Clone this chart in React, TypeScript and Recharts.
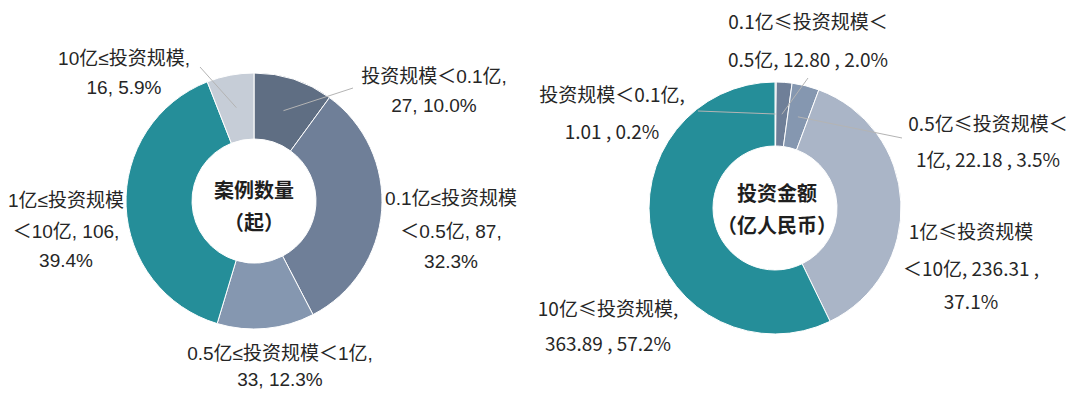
import { Cell, Pie, PieChart } from "recharts";

const scaleNames = ["投资规模＜0.1亿", "0.1亿≤投资规模＜0.5亿", "0.5亿≤投资规模＜1亿", "1亿≤投资规模＜10亿", "10亿≤投资规模"];
const dealCounts = [27, 87, 33, 106, 16];
const dealAmounts = [1.01, 12.8, 22.18, 236.31, 363.89];

const leftColors = ["#5f6e83", "#6f7f98", "#8597b0", "#258e99", "#c6cdd7"];
const rightColors = ["#5f6e83", "#6f7f98", "#8597b0", "#aab5c7", "#258e99"];

type Spot = { x: number; y: number[]; breaks: number[]; line?: [number, number] };

// where each label sits, and where its leader line ends
const leftSpots: Spot[] = [
  { x: 434, y: [76, 105], breaks: [10], line: [353, 88] },
  { x: 451, y: [198, 231, 261], breaks: [9, 19] },
  { x: 280, y: [353, 379], breaks: [13] },
  { x: 66, y: [200, 231, 260], breaks: [7, 17] },
  { x: 124, y: [58, 87], breaks: [9], line: [200, 67] },
];

const rightSpots: Spot[] = [
  { x: 612, y: [93, 130], breaks: [10], line: [698, 111] },
  { x: 808, y: [20, 58], breaks: [10], line: [808, 78] },
  { x: 988, y: [122, 158], breaks: [10], line: [902, 138] },
  { x: 971, y: [230, 267, 300], breaks: [7, 21] },
  { x: 608, y: [307, 342], breaks: [9] },
];

function buildRows(values: number[], digits: number) {
  const total = values.reduce((a, b) => a + b, 0);
  return scaleNames.map((name, i) => ({
    name,
    value: values[i],
    shown: digits ? values[i].toFixed(digits) : String(values[i]),
    pct: ((values[i] / total) * 100).toFixed(1) + "%",
  }));
}

const leftRows = buildRows(dealCounts, 0);
const rightRows = buildRows(dealAmounts, 2);

function splitAt(text: string, breaks: number[]) {
  const out: string[] = [];
  let from = 0;
  for (const b of breaks) {
    out.push(text.slice(from, b).trim());
    from = b;
  }
  out.push(text.slice(from).trim());
  return out;
}

const RAD = Math.PI / 180;

function makeLabel(spots: Spot[], sep: string, font: string) {
  return (props: any) => {
    const { cx, cy, midAngle, innerRadius, outerRadius, index, payload } = props;
    const spot = spots[index];
    const row = payload?.payload ?? payload;
    const full = `${row.name}, ${row.shown}${sep}${row.pct}`;
    const lines = splitAt(full, spot.breaks);
    const r = (innerRadius + outerRadius) / 2;
    const px = cx + Math.cos(-midAngle * RAD) * r;
    const py = cy + Math.sin(-midAngle * RAD) * r;
    return (
      <g>
        {spot.line && <line x1={spot.line[0]} y1={spot.line[1]} x2={px} y2={py} stroke="#b4b4b4" strokeWidth={1} />}
        {lines.map((t, k) => (
          <text
            key={k}
            x={spot.x}
            y={spot.y[k]}
            textAnchor="middle"
            dominantBaseline="central"
            fill="#262626"
            fontSize={19}
            fontFamily={font}
          >
            {t}
          </text>
        ))}
      </g>
    );
  };
}

const leftFont = "'Liberation Sans', Arial, 'Noto Sans CJK SC', sans-serif";
const rightFont = "'Noto Sans CJK SC', sans-serif";

const centerStyle = {
  position: "absolute" as const,
  width: 140,
  textAlign: "center" as const,
  fontFamily: "'Noto Sans CJK SC', sans-serif",
  fontSize: 20,
  fontWeight: 700,
  color: "#1f1f1f",
  lineHeight: "32px",
};

export default function App() {
  return (
    <div style={{ position: "absolute", left: 0, top: 0, width: 1080, height: 396, background: "#fff" }}>
      <PieChart width={1080} height={396} margin={{ top: 0, right: 0, bottom: 0, left: 0 }}>
        <Pie
          data={leftRows}
          dataKey="value"
          nameKey="name"
          cx={254}
          cy={201}
          innerRadius={62}
          outerRadius={128}
          startAngle={90}
          endAngle={-270}
          stroke="#fff"
          strokeWidth={1}
          label={makeLabel(leftSpots, ", ", leftFont)}
          labelLine={false}
          isAnimationActive={false}
        >
          {leftRows.map((r, i) => (
            <Cell key={r.name} fill={leftColors[i]} />
          ))}
        </Pie>
        <Pie
          data={rightRows}
          dataKey="value"
          nameKey="name"
          cx={775}
          cy={208}
          innerRadius={62}
          outerRadius={126}
          startAngle={90}
          endAngle={-270}
          stroke="#fff"
          strokeWidth={1}
          label={makeLabel(rightSpots, " , ", rightFont)}
          labelLine={false}
          isAnimationActive={false}
        >
          {rightRows.map((r, i) => (
            <Cell key={r.name} fill={rightColors[i]} />
          ))}
        </Pie>
      </PieChart>
      <div style={{ ...centerStyle, left: 254 - 70, top: 174 }}>
        案例数量
        <br />
        （起）
      </div>
      <div style={{ ...centerStyle, left: 777 - 70, top: 177 }}>
        投资金额
        <br />
        （亿人民币）
      </div>
    </div>
  );
}
